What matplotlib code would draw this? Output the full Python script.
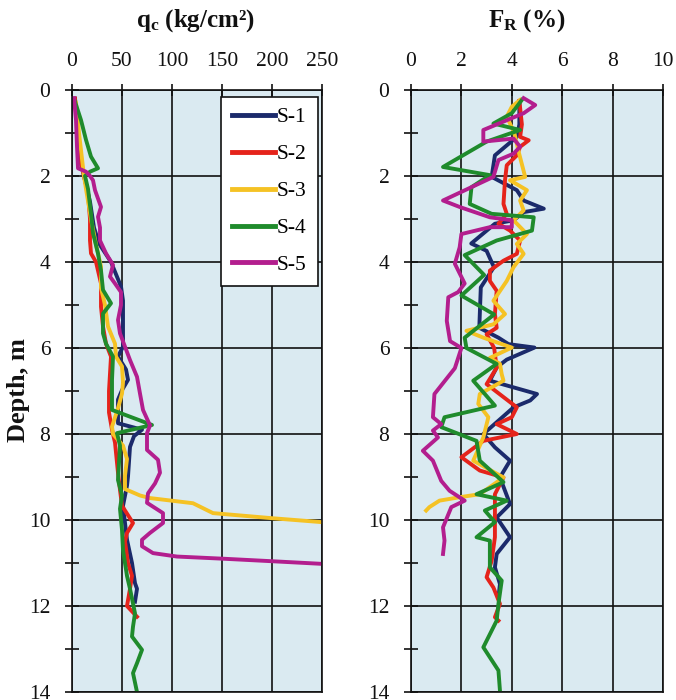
import matplotlib
matplotlib.use("Agg")
import matplotlib.pyplot as plt
from matplotlib.ticker import MultipleLocator

plt.rcParams["font.family"] = ["Liberation Serif", "DejaVu Serif"]
plt.rcParams["mathtext.fontset"] = "custom"
plt.rcParams["mathtext.rm"] = "Liberation Serif"
plt.rcParams["mathtext.bf"] = "Liberation Serif:bold"
plt.rcParams["mathtext.it"] = "Liberation Serif:italic"

series_names = ["S-1", "S-2", "S-3", "S-4", "S-5"]
series_colors = ["#1B2A6B", "#E5231B", "#F5C224", "#1F8B2C", "#B31E8E"]

# ---- cone resistance qc (kg/cm2) versus depth (m) ----
s1_qc_depth = [0.2, 1.0, 1.7, 2.1, 2.6, 3.2, 3.57, 4.0, 4.57, 4.9, 5.4, 5.97, 6.2, 6.5,
               6.74, 6.98, 7.2, 7.5, 7.75, 7.9, 8.05, 8.3, 8.99, 9.2, 9.67, 10.07, 10.46,
               11.0, 11.47, 11.6, 11.9]
s1_qc = [3, 6, 9, 13, 18, 22, 27, 39, 49, 51, 51, 51, 46, 54,
         56, 50, 46, 46, 46, 70, 62, 58, 56, 55, 51, 53, 55,
         60, 63, 65, 63]

s2_qc_depth = [0.2, 1.0, 1.6, 2.0, 2.4, 3.0, 3.5, 3.8, 4.0, 4.5, 5.04, 5.5, 5.9, 6.2, 6.6,
               7.0, 7.5, 7.9, 8.2, 8.9, 9.3, 9.67, 10.07, 10.3, 10.5, 11.0, 11.3, 11.6,
               12.0, 12.25]
s2_qc = [3, 6, 8, 12, 16, 18, 18, 19, 24, 29, 29, 31, 34, 39, 38,
         37, 37, 40, 43, 46, 48, 50, 61, 55, 53, 56, 60, 58,
         55, 65]

s3_qc_depth = [0.3, 1.0, 1.6, 2.0, 2.3, 3.0, 3.6, 4.1, 4.6, 5.0, 5.5, 5.9, 6.2, 6.43, 6.8,
               7.06, 7.4, 7.83, 8.0, 8.27, 8.58, 8.97, 9.28, 9.43, 9.49, 9.61, 9.84, 9.96,
               10.05]
s3_qc = [4, 7, 10, 12, 14, 19, 24, 29, 29, 33, 36, 43, 44, 50, 51,
         50, 46, 40, 41, 51, 55, 53, 53, 68, 78, 121, 141, 201,
         250]

s4_qc_depth = [0.27, 0.7, 1.16, 1.55, 1.82, 1.9, 2.0, 2.3, 2.87, 3.33, 3.8, 4.2, 4.65, 4.96,
               5.2, 5.66, 5.9, 6.2, 6.74, 7.44, 7.79, 7.98, 8.27, 9.07, 9.43, 9.74, 10.23,
               10.7, 11.3, 11.6, 12.17, 12.48, 12.71, 13.02, 13.33, 13.56, 14.0]
s4_qc = [3, 9, 14, 19, 26, 18, 13, 16, 19, 21, 26, 29, 31, 39,
         31, 31, 34, 41, 40, 40, 80, 45, 48, 46, 50, 48, 50,
         51, 55, 58, 63, 61, 60, 70, 65, 61, 65]

s5_qc_depth = [0.19, 0.7, 1.32, 1.82, 1.9, 2.0, 2.1, 2.33, 2.72, 2.95, 3.2, 3.5, 3.8, 4.07,
               4.34, 4.5, 4.7, 5.0, 5.35, 5.66, 5.97, 6.28, 6.67, 7.06, 7.44, 7.8, 7.98,
               8.37, 8.6, 8.9, 9.15, 9.38, 9.6, 9.84, 10.07, 10.3, 10.46, 10.61, 10.77,
               10.85, 10.9, 10.96, 11.02]
s5_qc = [2, 4, 5, 6, 14, 18, 21, 23, 29, 26, 28, 28, 34, 41,
         38, 43, 49, 49, 46, 48, 53, 58, 65, 68, 71, 78, 75,
         75, 86, 88, 83, 76, 75, 91, 91, 78, 70, 70, 81,
         105, 151, 201, 250]

# ---- friction ratio FR (%) versus depth (m) ----
s1_fr_depth = [0.3, 0.8, 1.09, 1.52, 2.02, 2.33, 2.57, 2.76, 2.84, 3.03, 3.11, 3.57, 3.74,
               4.12, 4.59, 5.53, 5.76, 5.91, 5.99, 6.27, 6.45, 6.76, 7.07, 7.22, 7.38,
               8.0, 8.31, 8.62, 9.01, 9.63, 9.94, 10.4, 10.79, 11.1, 11.49, 11.8]
s1_fr = [4.3, 4.3, 4.2, 3.33, 3.2, 4.2, 4.47, 5.27, 4.47, 4.07, 3.33, 2.39, 3.0,
         3.29, 2.77, 2.71, 3.47, 3.87, 4.9, 3.8, 3.4, 3.13, 5.0, 4.73, 4.07,
         2.87, 3.33, 3.93, 3.53, 3.93, 3.4, 3.93, 3.4, 3.33, 3.53, 3.47]

s2_fr_depth = [0.25, 0.8, 1.09, 1.17, 1.32, 1.52, 1.75, 2.1, 2.65, 2.88, 3.11, 3.27, 3.5,
               3.81, 3.97, 4.2, 4.44, 4.67, 5.21, 5.53, 5.68, 6.0, 6.46, 6.84, 7.38, 7.61,
               7.77, 8.0, 8.16, 8.54, 8.85, 9.01, 9.4, 9.94, 10.4, 10.95, 11.33, 11.57,
               11.95, 12.26, 12.34]
s2_fr = [4.3, 4.4, 4.33, 4.67, 4.33, 4.2, 3.8, 3.73, 3.67, 3.8, 3.47, 3.93, 4.33,
         4.2, 3.67, 3.13, 3.13, 3.4, 3.33, 3.4, 3.0, 3.3, 3.4, 3.0, 4.2, 4.0,
         3.4, 4.2, 2.87, 2.0, 2.73, 3.67, 3.33, 3.33, 3.33, 3.2, 3.0, 3.27,
         3.53, 3.33, 3.47]

s3_fr_depth = [0.23, 0.39, 0.62, 1.0, 1.5, 2.02, 2.1, 2.33, 2.57, 2.8, 3.03, 3.35, 3.58,
               3.81, 4.12, 4.44, 4.9, 5.21, 5.45, 5.6, 5.76, 5.99, 6.23, 6.37, 6.61, 6.76,
               7.07, 7.3, 7.61, 8.08, 8.62, 9.01, 9.4, 9.47, 9.55, 9.7, 9.78]
s3_fr = [4.33, 4.0, 3.8, 4.1, 4.3, 4.53, 3.93, 4.6, 4.33, 4.47, 4.07, 4.6, 4.2,
         4.47, 4.07, 3.8, 3.27, 3.73, 3.27, 2.2, 2.87, 4.0, 3.13, 3.53, 3.6, 3.67,
         2.73, 2.67, 3.07, 2.87, 2.47, 3.67, 2.73, 1.93, 1.13, 0.73, 0.6]

s4_fr_depth = [0.23, 0.54, 0.78, 0.93, 1.2, 1.79, 1.98, 2.26, 2.65, 2.88, 2.96, 3.27, 3.5,
               3.84, 4.3, 4.78, 5.22, 5.76, 6.0, 6.37, 6.76, 7.34, 7.61, 7.84, 8.16, 8.62,
               9.12, 9.4, 9.55, 9.78, 10.05, 10.4, 10.48, 11.1, 11.41, 11.95, 12.34, 12.96,
               13.5, 13.97]
s4_fr = [4.4, 4.0, 3.27, 4.33, 3.0, 1.27, 3.13, 2.4, 2.33, 3.2, 4.87, 4.8, 3.4,
         2.13, 2.9, 2.0, 3.3, 2.13, 2.2, 3.4, 2.47, 3.33, 1.33, 1.2, 2.6, 2.73,
         3.67, 2.6, 3.8, 2.93, 3.33, 2.6, 3.13, 3.13, 3.6, 3.47, 3.4, 2.87,
         3.47, 3.53]

s5_fr_depth = [0.19, 0.35, 0.54, 0.93, 1.2, 1.13, 1.32, 1.48, 1.63, 2.02, 2.57, 2.72, 2.96,
               3.03, 3.19, 3.19, 3.35, 3.66, 4.04, 4.5, 4.7, 4.82, 5.37, 5.84, 6.0, 6.47,
               7.07, 7.61, 7.77, 7.92, 8.08, 8.39, 8.62, 9.09, 9.32, 9.55, 9.7, 10.17,
               10.48, 10.79]
s5_fr = [4.47, 4.93, 4.47, 2.87, 2.87, 4.07, 4.33, 4.07, 3.47, 3.27, 1.27, 1.93, 3.13,
         4.0, 4.0, 3.13, 2.0, 1.93, 1.74, 2.13, 1.87, 1.48, 1.42, 1.55, 2.0, 1.74,
         0.93, 0.87, 1.2, 0.87, 1.07, 0.47, 0.87, 1.2, 1.53, 2.13, 1.6, 1.27,
         1.33, 1.27]

qc_depths = [s1_qc_depth, s2_qc_depth, s3_qc_depth, s4_qc_depth, s5_qc_depth]
qc_values = [s1_qc, s2_qc, s3_qc, s4_qc, s5_qc]
fr_depths = [s1_fr_depth, s2_fr_depth, s3_fr_depth, s4_fr_depth, s5_fr_depth]
fr_values = [s1_fr, s2_fr, s3_fr, s4_fr, s5_fr]

qc_ticks = [0, 50, 100, 150, 200, 250]
fr_ticks = [0, 2, 4, 6, 8, 10]
depth_ticks = [0, 2, 4, 6, 8, 10, 12, 14]

W, H = 676, 700
fig = plt.figure(figsize=(W / 100, H / 100), dpi=100)
ax_qc = fig.add_axes([72 / W, 1 - 692 / H, 250 / W, 602 / H])
ax_fr = fig.add_axes([411 / W, 1 - 692 / H, 252 / W, 602 / H])

bg = "#DAEAF1"
for ax, ticks in ((ax_qc, qc_ticks), (ax_fr, fr_ticks)):
    ax.set_facecolor(bg)
    ax.set_xlim(ticks[0], ticks[-1])
    ax.set_ylim(14, 0)
    ax.set_xticks(ticks)
    ax.set_yticks(depth_ticks)
    ax.yaxis.set_minor_locator(MultipleLocator(1))
    ax.xaxis.tick_top()
    ax.set_axisbelow(True)
    ax.grid(True, which="major", color="#111111", linewidth=1.2)
    for sp in ax.spines.values():
        sp.set_color("#111111")
        sp.set_linewidth(1.2)
    ax.tick_params(axis="x", which="major", direction="inout", length=9, width=1.2,
                   pad=9.5, labelsize=15.5, colors="#111111")
    ax.tick_params(axis="y", which="major", direction="inout", length=10, width=1.2,
                   pad=10.5, labelsize=15.5, colors="#111111")
    ax.tick_params(axis="y", which="minor", direction="inout", length=10, width=1.2,
                   colors="#111111")

handles = []
for dep, val, name, col in zip(qc_depths, qc_values, series_names, series_colors):
    ln, = ax_qc.plot(val, dep, color=col, lw=2.8, solid_joinstyle="round", label=name)
    handles.append(ln)
for dep, val, col in zip(fr_depths, fr_values, series_colors):
    ax_fr.plot(val, dep, color=col, lw=2.8, solid_joinstyle="round")

leg = ax_qc.legend(handles=handles, loc="upper right", bbox_to_anchor=(0.982, 0.989),
                   frameon=True, fancybox=False, edgecolor="#111111", facecolor="white",
                   framealpha=1, fontsize=15.5, handlelength=2.0, handletextpad=0.1,
                   labelspacing=0.78, borderpad=0.5, borderaxespad=0)
leg.get_frame().set_linewidth(1.2)
for lh in leg.get_lines():
    lh.set_linewidth(3.5)

fig.text(196 / W, 1 - 21 / H, r"$\mathbf{q}_{\mathbf{c}}$ (kg/cm²)", ha="center", va="center",
         fontsize=18, fontweight="bold", color="#111111")
fig.text(527 / W, 1 - 21 / H, r"$\mathbf{F}_{\mathbf{R}}$ (%)", ha="center", va="center",
         fontsize=18, fontweight="bold", color="#111111")
fig.text(19 / W, 1 - 390 / H, "Depth, m", rotation=90, ha="center", va="center",
         fontsize=19, fontweight="bold", color="#111111")

fig.savefig("out.png", dpi=100, facecolor="white")
